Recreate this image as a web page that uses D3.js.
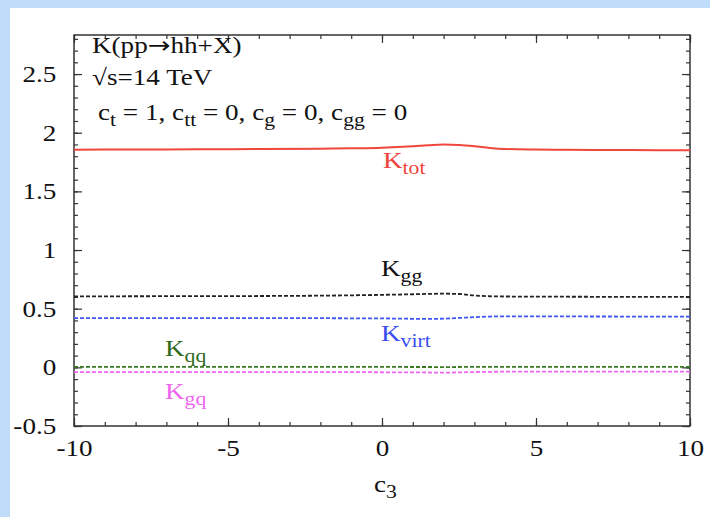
<!DOCTYPE html>
<html>
<head>
<meta charset="utf-8">
<script src="https://cdn.jsdelivr.net/npm/d3@7"></script>
<style>
  body { margin: 0; background: #bfdcfb; }
  svg { display: block; }
  text { font-family: "Liberation Serif", "DejaVu Serif", serif; }
</style>
</head>
<body>
<div id="chart"></div>
<script>
// data
var c3 = [-10, -8, -6, -4, -2, -1, 0, 1, 1.5, 2, 2.5, 3, 3.5, 4, 5, 6, 8, 10];
var kTot = [1.855, 1.857, 1.859, 1.861, 1.864, 1.867, 1.872, 1.884, 1.893, 1.9, 1.896, 1.885, 1.87, 1.861, 1.856, 1.854, 1.852, 1.851];
var kGg = [0.605, 0.606, 0.607, 0.608, 0.611, 0.614, 0.618, 0.623, 0.626, 0.628, 0.625, 0.613, 0.606, 0.604, 0.603, 0.602, 0.601, 0.6];
var kVirt = [0.42, 0.42, 0.42, 0.42, 0.419, 0.418, 0.417, 0.414, 0.413, 0.415, 0.421, 0.428, 0.433, 0.435, 0.435, 0.434, 0.433, 0.432];
var kQq = [0.004, 0.004, 0.004, 0.004, 0.004, 0.004, 0.004, 0.003, 0.003, 0.002, 0.003, 0.004, 0.004, 0.004, 0.004, 0.004, 0.004, 0.004];
var kGq = [-0.04, -0.04, -0.04, -0.04, -0.041, -0.041, -0.042, -0.043, -0.044, -0.045, -0.043, -0.04, -0.038, -0.037, -0.036, -0.036, -0.036, -0.036];

var xTicks = [-10, -5, 0, 5, 10];
var yTicks = [-0.5, 0, 0.5, 1, 1.5, 2, 2.5];

// the original picture is a bit stretched sideways, so text is widened too
var SX = 1.18, FS = 23;

// set the dimensions and margins of the graph
var W = 710, H = 517;
var margin = { top: 35, right: 20, bottom: 91, left: 74 },
    width = W - margin.left - margin.right,
    height = H - margin.top - margin.bottom;

var root = d3.select("#chart")
    .append("svg")
    .attr("width", W)
    .attr("height", H);

// white panel on the blue page
root.append("rect")
    .attr("x", 10).attr("y", 8)
    .attr("width", W - 10).attr("height", H - 8)
    .attr("fill", "#fff");

var svg = root.append("g")
    .attr("transform", "translate(" + margin.left + "," + margin.top + ")");

var x = d3.scaleLinear().domain([-10, 10]).range([0, width]);
var y = d3.scaleLinear().domain([-0.5, 2.833]).range([height, 0]);

var minorX = d3.range(-10, 10.01, 1);
var minorY = d3.range(-0.5, 2.81, 0.1).map(function (v) { return Math.round(v * 10) / 10; });

function styleAxis(g) {
    g.select(".domain").remove();
    g.selectAll("line").attr("stroke", "#333").attr("stroke-width", 1.2);
    g.selectAll("text")
        .attr("font-family", "Liberation Serif, serif")
        .attr("font-size", FS)
        .attr("fill", "#111");
}

// minor ticks on all four sides
svg.append("g").attr("transform", "translate(0," + height + ")")
    .call(d3.axisBottom(x).tickValues(minorX).tickSize(-4).tickFormat("")).call(styleAxis);
svg.append("g")
    .call(d3.axisTop(x).tickValues(minorX).tickSize(-4).tickFormat("")).call(styleAxis);
svg.append("g")
    .call(d3.axisLeft(y).tickValues(minorY).tickSize(-4).tickFormat("")).call(styleAxis);
svg.append("g").attr("transform", "translate(" + width + ",0)")
    .call(d3.axisRight(y).tickValues(minorY).tickSize(-4).tickFormat("")).call(styleAxis);

// major ticks + labels
svg.append("g").attr("transform", "translate(0," + height + ")")
    .call(d3.axisBottom(x).tickValues(xTicks).tickSize(-8).tickPadding(14).tickFormat(function (d) { return String(d); }))
    .call(styleAxis)
    .selectAll("text").attr("transform", "scale(" + SX + ",1)");
svg.append("g")
    .call(d3.axisTop(x).tickValues(xTicks).tickSize(-8).tickFormat("")).call(styleAxis);
svg.append("g")
    .call(d3.axisLeft(y).tickValues(yTicks).tickSize(-8).tickPadding(15).tickFormat(function (d) { return String(d); }))
    .call(styleAxis)
    .selectAll("text").attr("transform", "scale(" + SX + ",1)");
svg.append("g").attr("transform", "translate(" + width + ",0)")
    .call(d3.axisRight(y).tickValues(yTicks).tickSize(-8).tickFormat("")).call(styleAxis);

// frame
svg.append("rect")
    .attr("width", width).attr("height", height)
    .attr("fill", "none").attr("stroke", "#333").attr("stroke-width", 1.5);

// curves
var series = [
    { vals: kTot, color: "#f0463c", width: 2, dash: null },
    { vals: kGg, color: "#222", width: 1.8, dash: "4,2" },
    { vals: kVirt, color: "#3f55f5", width: 1.8, dash: "4,2" },
    { vals: kQq, color: "#3a7a22", width: 1.8, dash: "4,2" },
    { vals: kGq, color: "#ee66ee", width: 1.8, dash: "4,2" }
];

var line = d3.line()
    .x(function (d) { return x(d[0]); })
    .y(function (d) { return y(d[1]); })
    .curve(d3.curveMonotoneX);

series.forEach(function (s) {
    svg.append("path")
        .datum(c3.map(function (c, i) { return [c, s.vals[i]]; }))
        .attr("fill", "none")
        .attr("stroke", s.color)
        .attr("stroke-width", s.width)
        .attr("stroke-dasharray", s.dash)
        .attr("d", line);
});

// text with subscripts: parts = [[text, isSub, font], ...]
function label(g, px, py, parts, color) {
    var t = g.append("text")
        .attr("transform", "translate(" + px + "," + py + ") scale(" + SX + ",1)")
        .attr("fill", color)
        .attr("font-size", FS);
    var down = false;
    parts.forEach(function (p) {
        var ts = t.append("tspan").text(p[0]);
        if (p[2]) ts.attr("font-family", p[2]);
        if (p[1]) {
            ts.attr("font-size", FS * 0.8);
            if (!down) { ts.attr("dy", 6); down = true; }
        } else if (down) { ts.attr("dy", -6); down = false; }
    });
    return t;
}

// title block, in page coordinates
label(root, 92, 53, [["K(pp", false], ["\u2192", false, "DejaVu Sans"], ["hh+X)", false]], "#111");
label(root, 92, 85, [["\u221As=14 TeV", false]], "#111");
label(root, 98, 120, [["c", false], ["t", true], [" = 1, c", false], ["tt", true], [" = 0, c", false], ["g", true], [" = 0, c", false], ["gg", true], [" = 0", false]], "#111");

// curve labels
label(root, 383, 168, [["K", false], ["tot", true]], "#f0433a");
label(root, 381, 276, [["K", false], ["gg", true]], "#111");
label(root, 381, 341, [["K", false], ["virt", true]], "#3a4cf0");
label(root, 165, 356, [["K", false], ["qq", true]], "#2f6b1a");
label(root, 165, 399, [["K", false], ["gq", true]], "#ee66ee");

// x axis title
label(root, 374, 492, [["c", false], ["3", true]], "#111");
</script>
</body>
</html>
